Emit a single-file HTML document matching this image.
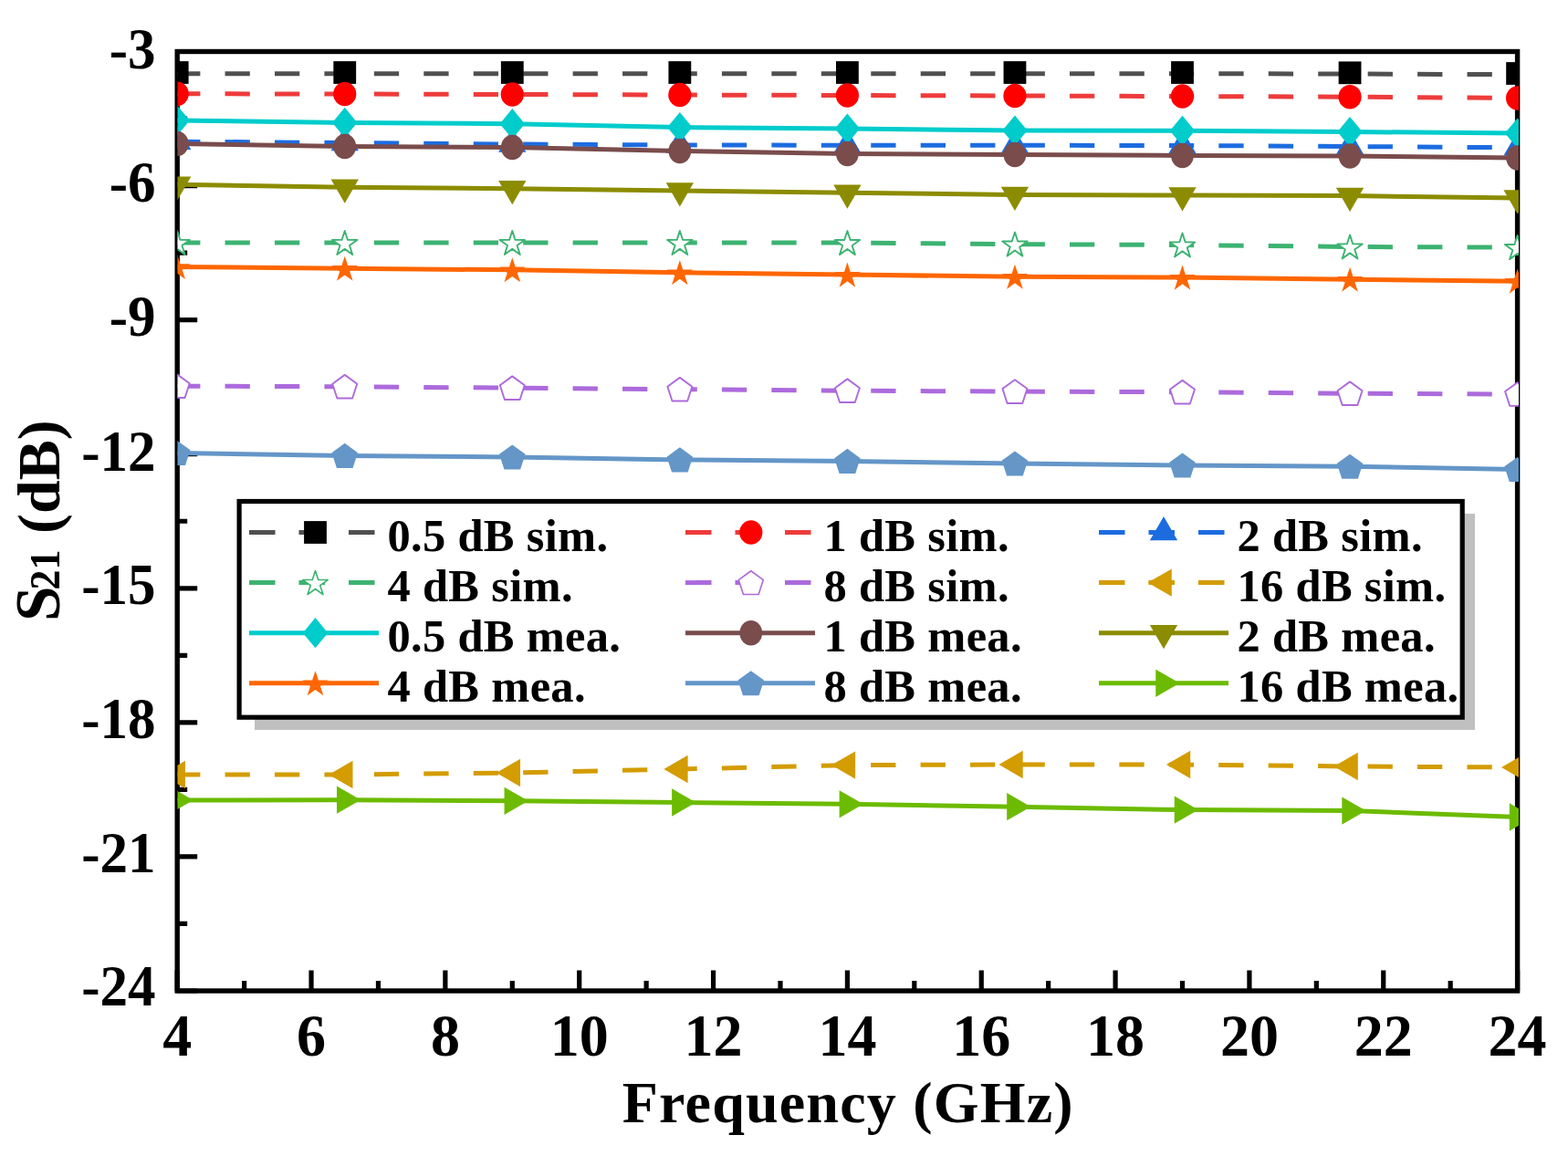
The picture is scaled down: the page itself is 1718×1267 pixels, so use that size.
<!DOCTYPE html><html><head><meta charset="utf-8"><title>S21 vs Frequency</title><style>html,body{margin:0;padding:0;background:#fff;}body{width:1718px;height:1267px;overflow:hidden;}svg{display:block;}text{font-family:"Liberation Serif","Times New Roman",serif;font-weight:bold;fill:#000;}</style></head><body>
<svg width="1718" height="1267" viewBox="0 0 1718 1267">
<defs><clipPath id="pc"><rect x="194.5" y="54" width="1469.5" height="1035"/></clipPath></defs>
<rect x="194.20" y="56.50" width="1468.40" height="1029.50" fill="none" stroke="#000" stroke-width="5.4"/>
<path d="M194.20 1086.00V1063.50M267.62 1086.00V1075.00M341.04 1086.00V1063.50M414.46 1086.00V1075.00M487.88 1086.00V1063.50M561.30 1086.00V1075.00M634.72 1086.00V1063.50M708.14 1086.00V1075.00M781.56 1086.00V1063.50M854.98 1086.00V1075.00M928.40 1086.00V1063.50M1001.82 1086.00V1075.00M1075.24 1086.00V1063.50M1148.66 1086.00V1075.00M1222.08 1086.00V1063.50M1295.50 1086.00V1075.00M1368.92 1086.00V1063.50M1442.34 1086.00V1075.00M1515.76 1086.00V1063.50M1589.18 1086.00V1075.00M1662.60 1086.00V1063.50M194.20 56.50H216.20M194.20 130.04H205.20M194.20 203.57H216.20M194.20 277.11H205.20M194.20 350.64H216.20M194.20 424.18H205.20M194.20 497.71H216.20M194.20 571.25H205.20M194.20 644.79H216.20M194.20 718.32H205.20M194.20 791.86H216.20M194.20 865.39H205.20M194.20 938.93H216.20M194.20 1012.46H205.20M194.20 1086.00H216.20" stroke="#000" stroke-width="5.2" fill="none"/>
<g clip-path="url(#pc)">
<path d="M194.20 80.70 L377.75 80.70 L561.30 80.70 L744.85 80.70 L928.40 80.70 L1111.95 80.70 L1295.50 80.70 L1479.05 81.00 L1662.60 81.70" stroke="#505050" stroke-width="5.0" fill="none" stroke-dasharray="27.3 27.14" stroke-dashoffset="2.10"/>
<rect x="181.80" y="67.10" width="24.80" height="24.80" fill="#000000"/>
<rect x="365.35" y="67.10" width="24.80" height="24.80" fill="#000000"/>
<rect x="548.90" y="67.10" width="24.80" height="24.80" fill="#000000"/>
<rect x="732.45" y="67.10" width="24.80" height="24.80" fill="#000000"/>
<rect x="916.00" y="67.10" width="24.80" height="24.80" fill="#000000"/>
<rect x="1099.55" y="67.10" width="24.80" height="24.80" fill="#000000"/>
<rect x="1283.10" y="67.10" width="24.80" height="24.80" fill="#000000"/>
<rect x="1466.65" y="67.40" width="24.80" height="24.80" fill="#000000"/>
<rect x="1650.20" y="68.10" width="24.80" height="24.80" fill="#000000"/>
<path d="M194.20 102.80 L377.75 103.00 L561.30 103.50 L744.85 104.00 L928.40 104.50 L1111.95 105.00 L1295.50 105.50 L1479.05 106.20 L1662.60 107.50" stroke="#EE3B3B" stroke-width="5.0" fill="none" stroke-dasharray="27.3 27.14" stroke-dashoffset="2.10"/>
<ellipse cx="194.20" cy="102.80" rx="12.6" ry="13.2" fill="#FF0000"/>
<ellipse cx="377.75" cy="103.00" rx="12.6" ry="13.2" fill="#FF0000"/>
<ellipse cx="561.30" cy="103.50" rx="12.6" ry="13.2" fill="#FF0000"/>
<ellipse cx="744.85" cy="104.00" rx="12.6" ry="13.2" fill="#FF0000"/>
<ellipse cx="928.40" cy="104.50" rx="12.6" ry="13.2" fill="#FF0000"/>
<ellipse cx="1111.95" cy="105.00" rx="12.6" ry="13.2" fill="#FF0000"/>
<ellipse cx="1295.50" cy="105.50" rx="12.6" ry="13.2" fill="#FF0000"/>
<ellipse cx="1479.05" cy="106.20" rx="12.6" ry="13.2" fill="#FF0000"/>
<ellipse cx="1662.60" cy="107.50" rx="12.6" ry="13.2" fill="#FF0000"/>
<path d="M194.20 155.20 L377.75 156.50 L561.30 158.00 L744.85 159.00 L928.40 159.20 L1111.95 159.30 L1295.50 159.50 L1479.05 160.50 L1662.60 161.80" stroke="#1C6CE0" stroke-width="5.0" fill="none" stroke-dasharray="27.3 27.14" stroke-dashoffset="2.10"/>
<polygon points="194.20,137.70 209.36,163.95 179.04,163.95" fill="#1C6CE0"/>
<polygon points="377.75,139.00 392.91,165.25 362.59,165.25" fill="#1C6CE0"/>
<polygon points="561.30,140.50 576.46,166.75 546.14,166.75" fill="#1C6CE0"/>
<polygon points="744.85,141.50 760.01,167.75 729.69,167.75" fill="#1C6CE0"/>
<polygon points="928.40,141.70 943.56,167.95 913.24,167.95" fill="#1C6CE0"/>
<polygon points="1111.95,141.80 1127.11,168.05 1096.79,168.05" fill="#1C6CE0"/>
<polygon points="1295.50,142.00 1310.66,168.25 1280.34,168.25" fill="#1C6CE0"/>
<polygon points="1479.05,143.00 1494.21,169.25 1463.89,169.25" fill="#1C6CE0"/>
<polygon points="1662.60,144.30 1677.76,170.55 1647.44,170.55" fill="#1C6CE0"/>
<path d="M194.20 266.00 L377.75 266.00 L561.30 266.00 L744.85 266.00 L928.40 266.10 L1111.95 267.60 L1295.50 268.50 L1479.05 270.50 L1662.60 271.10" stroke="#3CB371" stroke-width="5.0" fill="none" stroke-dasharray="27.3 27.14" stroke-dashoffset="2.10"/>
<polygon points="194.20,252.98 197.43,262.92 207.90,262.93 199.43,269.07 202.66,279.02 194.20,272.88 185.74,279.02 188.97,269.07 180.50,262.93 190.97,262.92" fill="#fff" stroke="#3CB371" stroke-width="1.90" stroke-linejoin="round"/>
<polygon points="377.75,252.98 380.98,262.92 391.45,262.93 382.98,269.07 386.21,279.02 377.75,272.88 369.29,279.02 372.52,269.07 364.05,262.93 374.52,262.92" fill="#fff" stroke="#3CB371" stroke-width="1.90" stroke-linejoin="round"/>
<polygon points="561.30,252.98 564.53,262.92 575.00,262.93 566.53,269.07 569.76,279.02 561.30,272.88 552.84,279.02 556.07,269.07 547.60,262.93 558.07,262.92" fill="#fff" stroke="#3CB371" stroke-width="1.90" stroke-linejoin="round"/>
<polygon points="744.85,252.98 748.08,262.92 758.55,262.93 750.08,269.07 753.31,279.02 744.85,272.88 736.39,279.02 739.62,269.07 731.15,262.93 741.62,262.92" fill="#fff" stroke="#3CB371" stroke-width="1.90" stroke-linejoin="round"/>
<polygon points="928.40,253.08 931.63,263.02 942.10,263.03 933.63,269.17 936.86,279.12 928.40,272.98 919.94,279.12 923.17,269.17 914.70,263.03 925.17,263.02" fill="#fff" stroke="#3CB371" stroke-width="1.90" stroke-linejoin="round"/>
<polygon points="1111.95,254.58 1115.18,264.52 1125.65,264.53 1117.18,270.67 1120.41,280.62 1111.95,274.48 1103.49,280.62 1106.72,270.67 1098.25,264.53 1108.72,264.52" fill="#fff" stroke="#3CB371" stroke-width="1.90" stroke-linejoin="round"/>
<polygon points="1295.50,255.48 1298.73,265.42 1309.20,265.43 1300.73,271.57 1303.96,281.52 1295.50,275.38 1287.04,281.52 1290.27,271.57 1281.80,265.43 1292.27,265.42" fill="#fff" stroke="#3CB371" stroke-width="1.90" stroke-linejoin="round"/>
<polygon points="1479.05,257.48 1482.28,267.42 1492.75,267.43 1484.28,273.57 1487.51,283.52 1479.05,277.38 1470.59,283.52 1473.82,273.57 1465.35,267.43 1475.82,267.42" fill="#fff" stroke="#3CB371" stroke-width="1.90" stroke-linejoin="round"/>
<polygon points="1662.60,258.08 1665.83,268.02 1676.30,268.03 1667.83,274.17 1671.06,284.12 1662.60,277.98 1654.14,284.12 1657.37,274.17 1648.90,268.03 1659.37,268.02" fill="#fff" stroke="#3CB371" stroke-width="1.90" stroke-linejoin="round"/>
<path d="M194.20 423.20 L377.75 423.70 L561.30 425.20 L744.85 426.70 L928.40 428.20 L1111.95 429.10 L1295.50 429.70 L1479.05 431.20 L1662.60 432.00" stroke="#AC6ADC" stroke-width="5.0" fill="none" stroke-dasharray="27.3 27.14" stroke-dashoffset="2.10"/>
<polygon points="194.20,410.36 207.71,420.17 202.55,436.04 185.85,436.04 180.69,420.17" fill="#fff" stroke="#AC6ADC" stroke-width="1.90" stroke-linejoin="round"/>
<polygon points="377.75,410.86 391.26,420.67 386.10,436.54 369.40,436.54 364.24,420.67" fill="#fff" stroke="#AC6ADC" stroke-width="1.90" stroke-linejoin="round"/>
<polygon points="561.30,412.36 574.81,422.17 569.65,438.04 552.95,438.04 547.79,422.17" fill="#fff" stroke="#AC6ADC" stroke-width="1.90" stroke-linejoin="round"/>
<polygon points="744.85,413.86 758.36,423.67 753.20,439.54 736.50,439.54 731.34,423.67" fill="#fff" stroke="#AC6ADC" stroke-width="1.90" stroke-linejoin="round"/>
<polygon points="928.40,415.36 941.91,425.17 936.75,441.04 920.05,441.04 914.89,425.17" fill="#fff" stroke="#AC6ADC" stroke-width="1.90" stroke-linejoin="round"/>
<polygon points="1111.95,416.26 1125.46,426.07 1120.30,441.94 1103.60,441.94 1098.44,426.07" fill="#fff" stroke="#AC6ADC" stroke-width="1.90" stroke-linejoin="round"/>
<polygon points="1295.50,416.86 1309.01,426.67 1303.85,442.54 1287.15,442.54 1281.99,426.67" fill="#fff" stroke="#AC6ADC" stroke-width="1.90" stroke-linejoin="round"/>
<polygon points="1479.05,418.36 1492.56,428.17 1487.40,444.04 1470.70,444.04 1465.54,428.17" fill="#fff" stroke="#AC6ADC" stroke-width="1.90" stroke-linejoin="round"/>
<polygon points="1662.60,419.16 1676.11,428.97 1670.95,444.84 1654.25,444.84 1649.09,428.97" fill="#fff" stroke="#AC6ADC" stroke-width="1.90" stroke-linejoin="round"/>
<path d="M194.20 849.00 L377.75 849.00 L561.30 847.00 L744.85 843.00 L928.40 838.60 L1111.95 838.00 L1295.50 838.00 L1479.05 840.00 L1662.60 841.00" stroke="#D39C00" stroke-width="5.0" fill="none" stroke-dasharray="27.3 27.14" stroke-dashoffset="2.10"/>
<polygon points="176.70,849.00 202.95,833.84 202.95,864.16" fill="#D39C00"/>
<polygon points="360.25,849.00 386.50,833.84 386.50,864.16" fill="#D39C00"/>
<polygon points="543.80,847.00 570.05,831.84 570.05,862.16" fill="#D39C00"/>
<polygon points="727.35,843.00 753.60,827.84 753.60,858.16" fill="#D39C00"/>
<polygon points="910.90,838.60 937.15,823.44 937.15,853.76" fill="#D39C00"/>
<polygon points="1094.45,838.00 1120.70,822.84 1120.70,853.16" fill="#D39C00"/>
<polygon points="1278.00,838.00 1304.25,822.84 1304.25,853.16" fill="#D39C00"/>
<polygon points="1461.55,840.00 1487.80,824.84 1487.80,855.16" fill="#D39C00"/>
<polygon points="1645.10,841.00 1671.35,825.84 1671.35,856.16" fill="#D39C00"/>
<path d="M194.20 132.00 L377.75 134.40 L561.30 135.70 L744.85 139.50 L928.40 141.00 L1111.95 143.00 L1295.50 143.30 L1479.05 144.50 L1662.60 146.00" stroke="#00CCCC" stroke-width="5.0" fill="none"/>
<polygon points="194.20,115.40 207.90,132.00 194.20,148.60 180.50,132.00" fill="#00CCCC"/>
<polygon points="377.75,117.80 391.45,134.40 377.75,151.00 364.05,134.40" fill="#00CCCC"/>
<polygon points="561.30,119.10 575.00,135.70 561.30,152.30 547.60,135.70" fill="#00CCCC"/>
<polygon points="744.85,122.90 758.55,139.50 744.85,156.10 731.15,139.50" fill="#00CCCC"/>
<polygon points="928.40,124.40 942.10,141.00 928.40,157.60 914.70,141.00" fill="#00CCCC"/>
<polygon points="1111.95,126.40 1125.65,143.00 1111.95,159.60 1098.25,143.00" fill="#00CCCC"/>
<polygon points="1295.50,126.70 1309.20,143.30 1295.50,159.90 1281.80,143.30" fill="#00CCCC"/>
<polygon points="1479.05,127.90 1492.75,144.50 1479.05,161.10 1465.35,144.50" fill="#00CCCC"/>
<polygon points="1662.60,129.40 1676.30,146.00 1662.60,162.60 1648.90,146.00" fill="#00CCCC"/>
<path d="M194.20 157.50 L377.75 160.50 L561.30 161.50 L744.85 165.50 L928.40 168.50 L1111.95 169.50 L1295.50 170.50 L1479.05 171.00 L1662.60 173.00" stroke="#7A4C4C" stroke-width="5.0" fill="none"/>
<ellipse cx="194.20" cy="157.50" rx="12.4" ry="13.7" fill="#7A4C4C"/>
<ellipse cx="377.75" cy="160.50" rx="12.4" ry="13.7" fill="#7A4C4C"/>
<ellipse cx="561.30" cy="161.50" rx="12.4" ry="13.7" fill="#7A4C4C"/>
<ellipse cx="744.85" cy="165.50" rx="12.4" ry="13.7" fill="#7A4C4C"/>
<ellipse cx="928.40" cy="168.50" rx="12.4" ry="13.7" fill="#7A4C4C"/>
<ellipse cx="1111.95" cy="169.50" rx="12.4" ry="13.7" fill="#7A4C4C"/>
<ellipse cx="1295.50" cy="170.50" rx="12.4" ry="13.7" fill="#7A4C4C"/>
<ellipse cx="1479.05" cy="171.00" rx="12.4" ry="13.7" fill="#7A4C4C"/>
<ellipse cx="1662.60" cy="173.00" rx="12.4" ry="13.7" fill="#7A4C4C"/>
<path d="M194.20 202.30 L377.75 205.20 L561.30 206.70 L744.85 209.00 L928.40 211.20 L1111.95 213.50 L1295.50 214.10 L1479.05 214.50 L1662.60 217.10" stroke="#8C8C00" stroke-width="5.0" fill="none"/>
<polygon points="194.20,219.80 209.36,193.55 179.04,193.55" fill="#8C8C00"/>
<polygon points="377.75,222.70 392.91,196.45 362.59,196.45" fill="#8C8C00"/>
<polygon points="561.30,224.20 576.46,197.95 546.14,197.95" fill="#8C8C00"/>
<polygon points="744.85,226.50 760.01,200.25 729.69,200.25" fill="#8C8C00"/>
<polygon points="928.40,228.70 943.56,202.45 913.24,202.45" fill="#8C8C00"/>
<polygon points="1111.95,231.00 1127.11,204.75 1096.79,204.75" fill="#8C8C00"/>
<polygon points="1295.50,231.60 1310.66,205.35 1280.34,205.35" fill="#8C8C00"/>
<polygon points="1479.05,232.00 1494.21,205.75 1463.89,205.75" fill="#8C8C00"/>
<polygon points="1662.60,234.60 1677.76,208.35 1647.44,208.35" fill="#8C8C00"/>
<path d="M194.20 292.50 L377.75 294.30 L561.30 295.80 L744.85 298.70 L928.40 301.10 L1111.95 303.20 L1295.50 304.10 L1479.05 306.20 L1662.60 308.20" stroke="#FF6600" stroke-width="5.0" fill="none"/>
<polygon points="194.20,278.93 197.57,289.30 208.47,289.30 199.65,295.70 203.02,306.07 194.20,299.66 185.38,306.07 188.75,295.70 179.93,289.30 190.83,289.30" fill="#FF6600"/>
<polygon points="377.75,280.73 381.12,291.10 392.02,291.10 383.20,297.50 386.57,307.87 377.75,301.46 368.93,307.87 372.30,297.50 363.48,291.10 374.38,291.10" fill="#FF6600"/>
<polygon points="561.30,282.23 564.67,292.60 575.57,292.60 566.75,299.00 570.12,309.37 561.30,302.96 552.48,309.37 555.85,299.00 547.03,292.60 557.93,292.60" fill="#FF6600"/>
<polygon points="744.85,285.13 748.22,295.50 759.12,295.50 750.30,301.90 753.67,312.27 744.85,305.86 736.03,312.27 739.40,301.90 730.58,295.50 741.48,295.50" fill="#FF6600"/>
<polygon points="928.40,287.53 931.77,297.90 942.67,297.90 933.85,304.30 937.22,314.67 928.40,308.26 919.58,314.67 922.95,304.30 914.13,297.90 925.03,297.90" fill="#FF6600"/>
<polygon points="1111.95,289.63 1115.32,300.00 1126.22,300.00 1117.40,306.40 1120.77,316.77 1111.95,310.36 1103.13,316.77 1106.50,306.40 1097.68,300.00 1108.58,300.00" fill="#FF6600"/>
<polygon points="1295.50,290.53 1298.87,300.90 1309.77,300.90 1300.95,307.30 1304.32,317.67 1295.50,311.26 1286.68,317.67 1290.05,307.30 1281.23,300.90 1292.13,300.90" fill="#FF6600"/>
<polygon points="1479.05,292.63 1482.42,303.00 1493.32,303.00 1484.50,309.40 1487.87,319.77 1479.05,313.36 1470.23,319.77 1473.60,309.40 1464.78,303.00 1475.68,303.00" fill="#FF6600"/>
<polygon points="1662.60,294.63 1665.97,305.00 1676.87,305.00 1668.05,311.40 1671.42,321.77 1662.60,315.36 1653.78,321.77 1657.15,311.40 1648.33,305.00 1659.23,305.00" fill="#FF6600"/>
<path d="M194.20 496.50 L377.75 499.40 L561.30 501.00 L744.85 503.90 L928.40 505.40 L1111.95 508.00 L1295.50 510.00 L1479.05 511.30 L1662.60 514.50" stroke="#6496C8" stroke-width="5.0" fill="none"/>
<polygon points="194.20,482.93 208.47,493.30 203.02,510.07 185.38,510.07 179.93,493.30" fill="#6496C8"/>
<polygon points="377.75,485.83 392.02,496.20 386.57,512.97 368.93,512.97 363.48,496.20" fill="#6496C8"/>
<polygon points="561.30,487.43 575.57,497.80 570.12,514.57 552.48,514.57 547.03,497.80" fill="#6496C8"/>
<polygon points="744.85,490.33 759.12,500.70 753.67,517.47 736.03,517.47 730.58,500.70" fill="#6496C8"/>
<polygon points="928.40,491.83 942.67,502.20 937.22,518.97 919.58,518.97 914.13,502.20" fill="#6496C8"/>
<polygon points="1111.95,494.43 1126.22,504.80 1120.77,521.57 1103.13,521.57 1097.68,504.80" fill="#6496C8"/>
<polygon points="1295.50,496.43 1309.77,506.80 1304.32,523.57 1286.68,523.57 1281.23,506.80" fill="#6496C8"/>
<polygon points="1479.05,497.73 1493.32,508.10 1487.87,524.87 1470.23,524.87 1464.78,508.10" fill="#6496C8"/>
<polygon points="1662.60,500.93 1676.87,511.30 1671.42,528.07 1653.78,528.07 1648.33,511.30" fill="#6496C8"/>
<path d="M194.20 877.00 L377.75 876.70 L561.30 877.80 L744.85 879.50 L928.40 881.30 L1111.95 884.20 L1295.50 887.60 L1479.05 888.60 L1662.60 895.50" stroke="#6CBB00" stroke-width="5.0" fill="none"/>
<polygon points="211.70,877.00 185.45,861.84 185.45,892.16" fill="#6CBB00"/>
<polygon points="395.25,876.70 369.00,861.54 369.00,891.86" fill="#6CBB00"/>
<polygon points="578.80,877.80 552.55,862.64 552.55,892.96" fill="#6CBB00"/>
<polygon points="762.35,879.50 736.10,864.34 736.10,894.66" fill="#6CBB00"/>
<polygon points="945.90,881.30 919.65,866.14 919.65,896.46" fill="#6CBB00"/>
<polygon points="1129.45,884.20 1103.20,869.04 1103.20,899.36" fill="#6CBB00"/>
<polygon points="1313.00,887.60 1286.75,872.44 1286.75,902.76" fill="#6CBB00"/>
<polygon points="1496.55,888.60 1470.30,873.44 1470.30,903.76" fill="#6CBB00"/>
<polygon points="1680.10,895.50 1653.85,880.34 1653.85,910.66" fill="#6CBB00"/>
</g>
<rect x="279" y="563" width="1337" height="237" fill="#C0C0C0"/>
<rect x="262.1" y="549.5" width="1340.1" height="236.7" fill="#fff" stroke="#000" stroke-width="5.2"/>
<path d="M273.0 583.5H415.0" stroke="#505050" stroke-width="5.0" stroke-dasharray="28.5 26"/>
<rect x="333.10" y="571.10" width="24.80" height="24.80" fill="#000000"/>
<text x="424.50" y="603.50" font-size="50.50" letter-spacing="0.30">0.5 dB sim.</text>
<path d="M751.0 583.5H893.0" stroke="#EE3B3B" stroke-width="5.0" stroke-dasharray="28.5 26"/>
<ellipse cx="822.80" cy="583.50" rx="12.6" ry="13.2" fill="#FF0000"/>
<text x="902.50" y="603.50" font-size="50.50" letter-spacing="0.30">1 dB sim.</text>
<path d="M1204.0 583.5H1346.0" stroke="#1C6CE0" stroke-width="5.0" stroke-dasharray="28.5 26"/>
<polygon points="1275.00,566.00 1290.16,592.25 1259.84,592.25" fill="#1C6CE0"/>
<text x="1355.50" y="603.50" font-size="50.50" letter-spacing="0.30">2 dB sim.</text>
<path d="M273.0 638.6H415.0" stroke="#3CB371" stroke-width="5.0" stroke-dasharray="28.5 26"/>
<polygon points="345.50,625.58 348.73,635.52 359.20,635.53 350.73,641.67 353.96,651.62 345.50,645.48 337.04,651.62 340.27,641.67 331.80,635.53 342.27,635.52" fill="#fff" stroke="#3CB371" stroke-width="1.60" stroke-linejoin="round"/>
<text x="424.50" y="658.60" font-size="50.50" letter-spacing="0.30">4 dB sim.</text>
<path d="M751.0 638.6H893.0" stroke="#AC6ADC" stroke-width="5.0" stroke-dasharray="28.5 26"/>
<polygon points="822.80,625.76 836.31,635.57 831.15,651.44 814.45,651.44 809.29,635.57" fill="#fff" stroke="#AC6ADC" stroke-width="1.60" stroke-linejoin="round"/>
<text x="902.50" y="658.60" font-size="50.50" letter-spacing="0.30">8 dB sim.</text>
<path d="M1204.0 638.6H1346.0" stroke="#D39C00" stroke-width="5.0" stroke-dasharray="28.5 26"/>
<polygon points="1257.50,638.60 1283.75,623.44 1283.75,653.76" fill="#D39C00"/>
<text x="1355.50" y="658.60" font-size="50.50" letter-spacing="0.30">16 dB sim.</text>
<path d="M273.0 693.7H415.0" stroke="#00CCCC" stroke-width="5.0"/>
<polygon points="345.50,677.10 359.20,693.70 345.50,710.30 331.80,693.70" fill="#00CCCC"/>
<text x="424.50" y="713.70" font-size="50.50" letter-spacing="0.30">0.5 dB mea.</text>
<path d="M751.0 693.7H893.0" stroke="#7A4C4C" stroke-width="5.0"/>
<ellipse cx="822.80" cy="693.70" rx="12.4" ry="13.7" fill="#7A4C4C"/>
<text x="902.50" y="713.70" font-size="50.50" letter-spacing="0.30">1 dB mea.</text>
<path d="M1204.0 693.7H1346.0" stroke="#8C8C00" stroke-width="5.0"/>
<polygon points="1275.00,711.20 1290.16,684.95 1259.84,684.95" fill="#8C8C00"/>
<text x="1355.50" y="713.70" font-size="50.50" letter-spacing="0.30">2 dB mea.</text>
<path d="M273.0 748.8H415.0" stroke="#FF6600" stroke-width="5.0"/>
<polygon points="345.50,735.23 348.87,745.60 359.77,745.60 350.95,752.00 354.32,762.37 345.50,755.96 336.68,762.37 340.05,752.00 331.23,745.60 342.13,745.60" fill="#FF6600"/>
<text x="424.50" y="768.80" font-size="50.50" letter-spacing="0.30">4 dB mea.</text>
<path d="M751.0 748.8H893.0" stroke="#6496C8" stroke-width="5.0"/>
<polygon points="822.80,735.23 837.07,745.60 831.62,762.37 813.98,762.37 808.53,745.60" fill="#6496C8"/>
<text x="902.50" y="768.80" font-size="50.50" letter-spacing="0.30">8 dB mea.</text>
<path d="M1204.0 748.8H1346.0" stroke="#6CBB00" stroke-width="5.0"/>
<polygon points="1292.50,748.80 1266.25,733.64 1266.25,763.96" fill="#6CBB00"/>
<text x="1355.50" y="768.80" font-size="50.50" letter-spacing="0.30">16 dB mea.</text>
<text transform="translate(170.50 74.70) scale(1.0000 1.0400)" font-size="61.00" text-anchor="end">-3</text>
<text transform="translate(170.50 221.40) scale(1.0000 1.0400)" font-size="61.00" text-anchor="end">-6</text>
<text transform="translate(170.50 368.10) scale(1.0000 1.0400)" font-size="61.00" text-anchor="end">-9</text>
<text transform="translate(170.50 515.60) scale(1.0000 1.0400)" font-size="61.00" text-anchor="end">-12</text>
<text transform="translate(170.50 662.00) scale(1.0000 1.0400)" font-size="61.00" text-anchor="end">-15</text>
<text transform="translate(170.50 808.80) scale(1.0000 1.0400)" font-size="61.00" text-anchor="end">-18</text>
<text transform="translate(170.50 955.60) scale(1.0000 1.0400)" font-size="61.00" text-anchor="end">-21</text>
<text transform="translate(170.50 1101.60) scale(1.0000 1.0400)" font-size="61.00" text-anchor="end">-24</text>
<text transform="translate(194.20 1156.50) scale(1.0000 1.0400)" font-size="64.00" text-anchor="middle">4</text>
<text transform="translate(341.04 1156.50) scale(1.0000 1.0400)" font-size="64.00" text-anchor="middle">6</text>
<text transform="translate(487.88 1156.50) scale(1.0000 1.0400)" font-size="64.00" text-anchor="middle">8</text>
<text transform="translate(634.72 1156.50) scale(1.0000 1.0400)" font-size="64.00" text-anchor="middle">10</text>
<text transform="translate(781.56 1156.50) scale(1.0000 1.0400)" font-size="64.00" text-anchor="middle">12</text>
<text transform="translate(928.40 1156.50) scale(1.0000 1.0400)" font-size="64.00" text-anchor="middle">14</text>
<text transform="translate(1075.24 1156.50) scale(1.0000 1.0400)" font-size="64.00" text-anchor="middle">16</text>
<text transform="translate(1222.08 1156.50) scale(1.0000 1.0400)" font-size="64.00" text-anchor="middle">18</text>
<text transform="translate(1368.92 1156.50) scale(1.0000 1.0400)" font-size="64.00" text-anchor="middle">20</text>
<text transform="translate(1515.76 1156.50) scale(1.0000 1.0400)" font-size="64.00" text-anchor="middle">22</text>
<text transform="translate(1662.60 1156.50) scale(1.0000 1.0400)" font-size="64.00" text-anchor="middle">24</text>
<text x="929.30" y="1230.00" font-size="64.00" text-anchor="middle" letter-spacing="1.20">Frequency (GHz)</text>
<g transform="translate(65.00 571.00) rotate(-90)">
<text x="-110.00" y="0.00" font-size="69.00">S</text>
<text transform="translate(-75.50 0.00) scale(1.0000 1.0700)" font-size="44.00">21</text>
<text x="-14.00" y="0.00" font-size="66.00">(dB)</text>
</g>
</svg></body></html>
